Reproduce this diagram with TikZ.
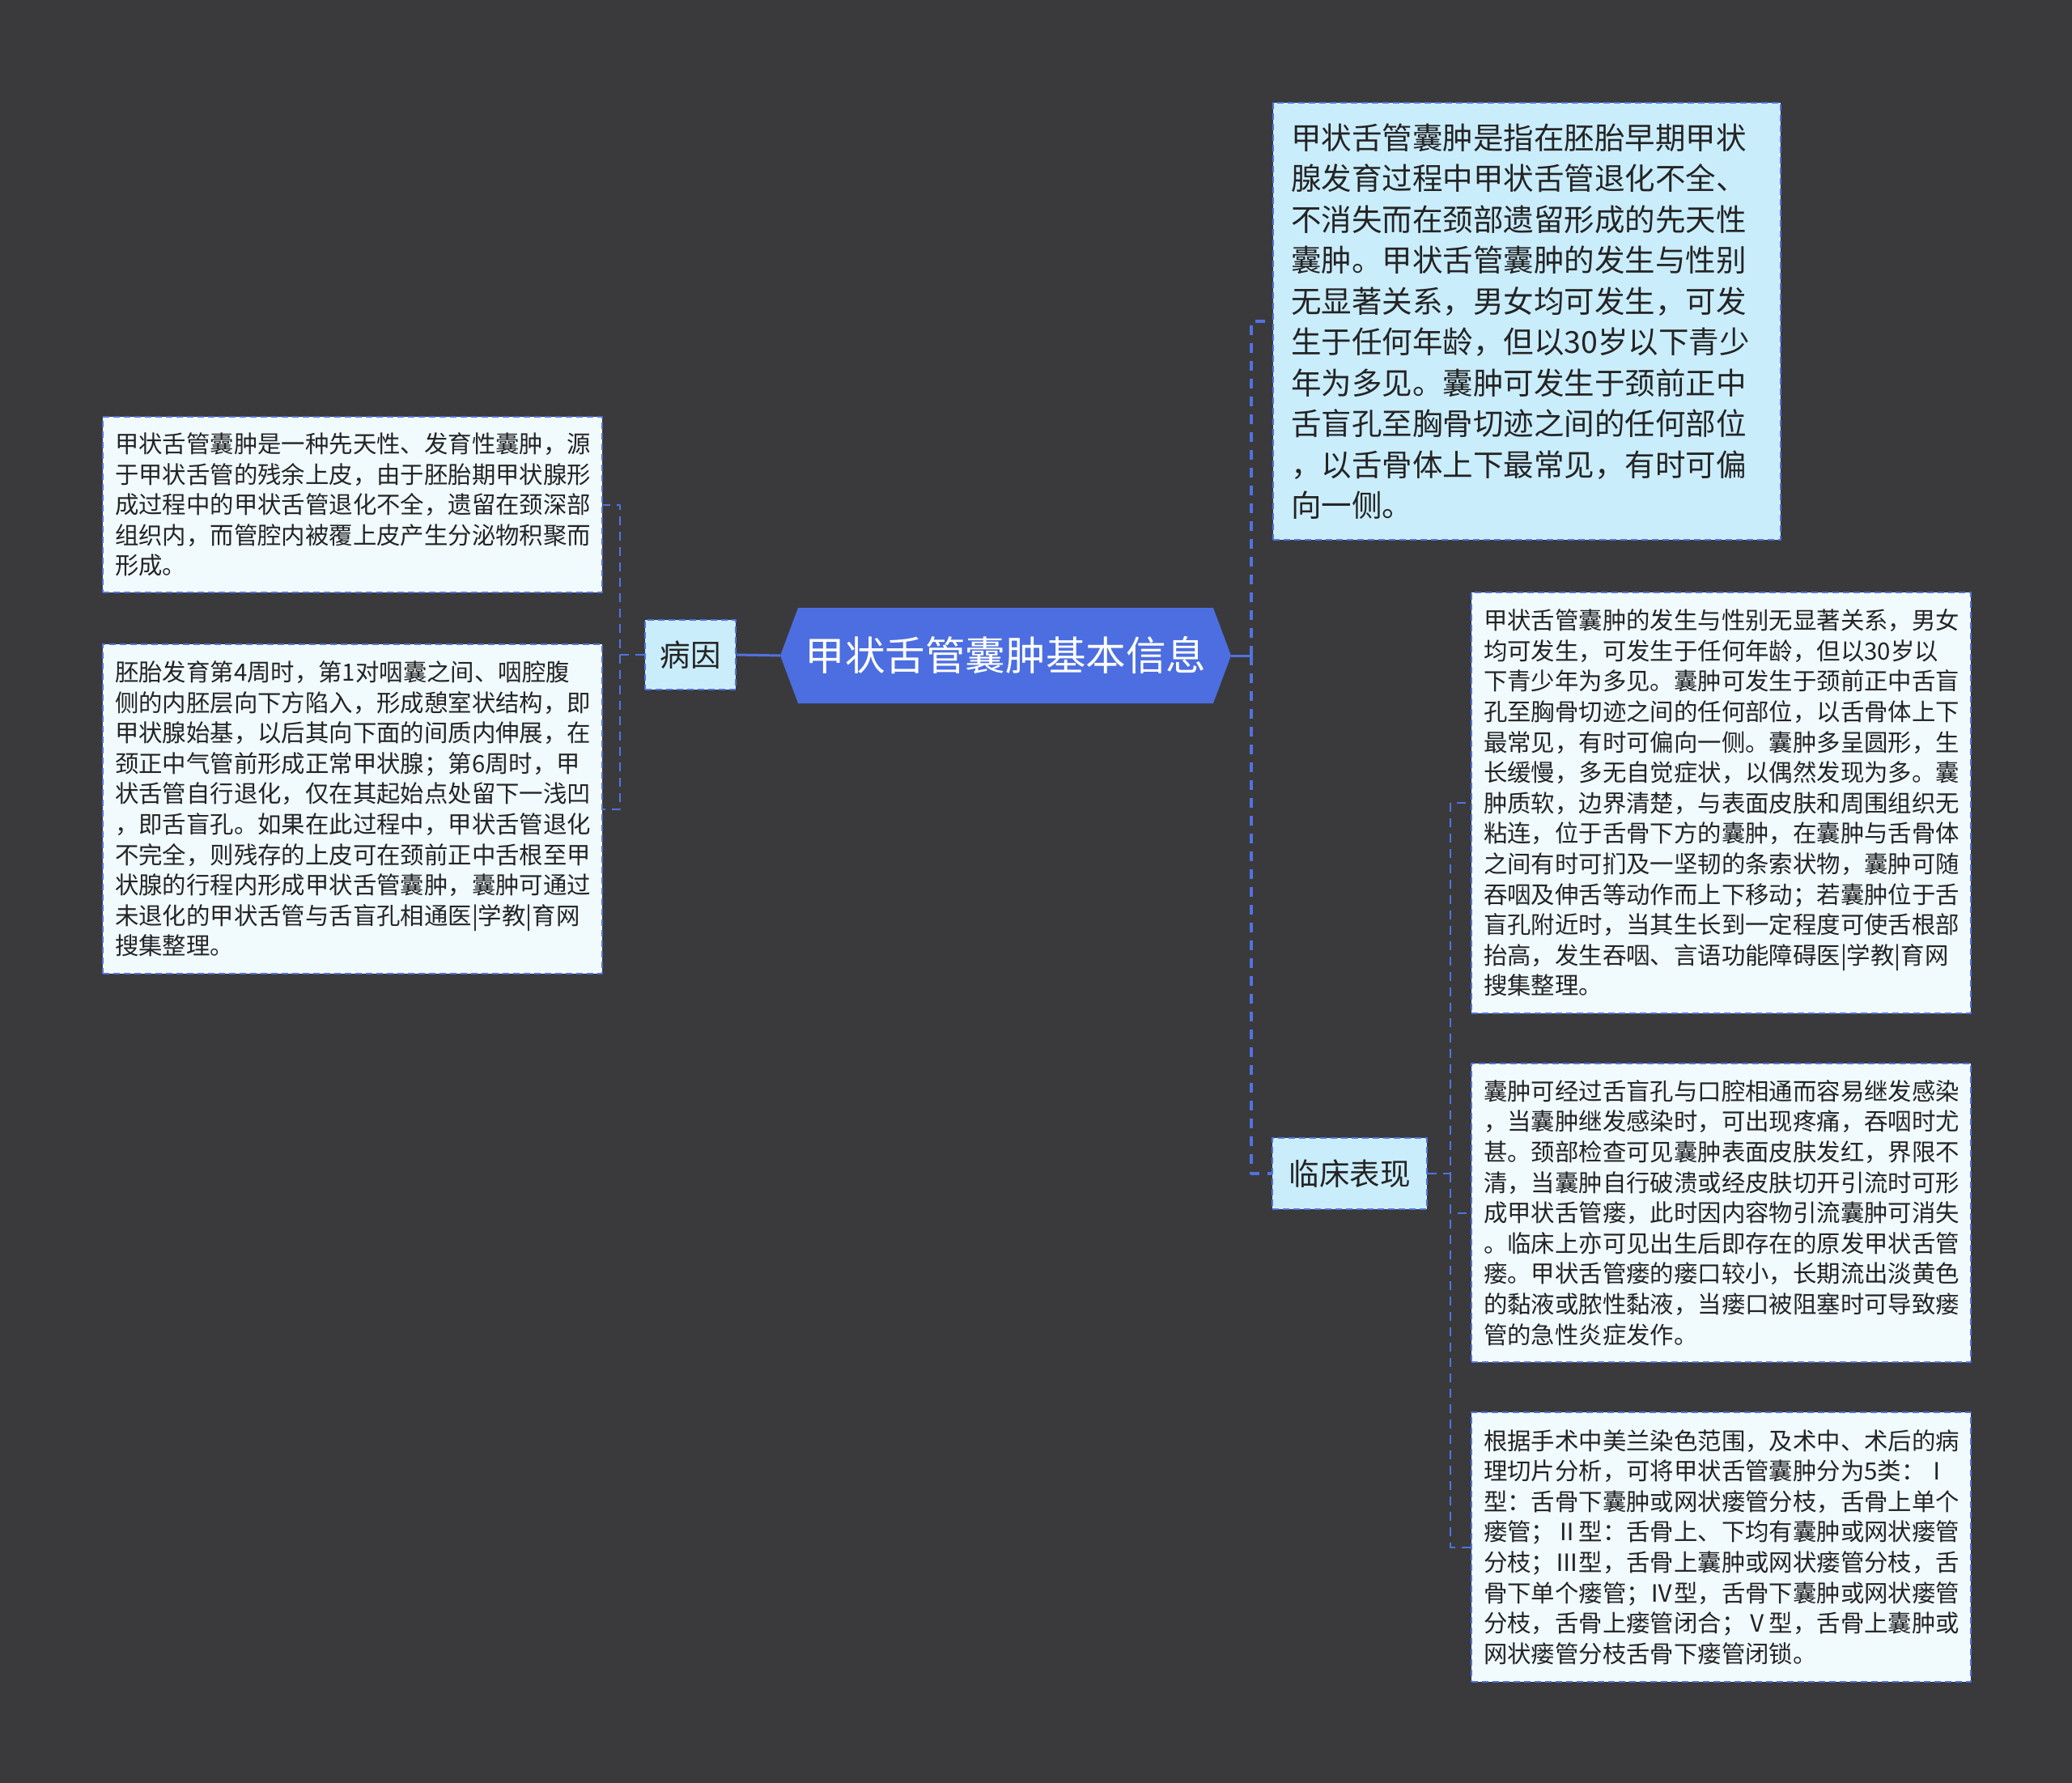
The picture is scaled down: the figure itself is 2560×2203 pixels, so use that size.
\documentclass[tikz,border=0pt]{standalone}
\usepackage{fontspec}
\setmainfont{Noto Sans CJK SC}
\usetikzlibrary{shapes.symbols}
\definecolor{bgc}{RGB}{58,58,60}
\definecolor{rootc}{RGB}{76,110,224}
\definecolor{linec}{RGB}{82,114,224}
\definecolor{topc}{RGB}{202,237,252}
\definecolor{leafc}{RGB}{241,251,254}
\definecolor{txtc}{RGB}{36,36,36}
\begin{document}
\begin{tikzpicture}[x=1pt,y=-1pt,line join=round,
	root/.style={shape=signal,signal to=west and east,signal pointer angle=139,fill=rootc,text=white,inner sep=0pt,minimum width=557,minimum height=118,font=\fontsize{49.6}{60}\selectfont},
	topic/.style={draw=linec,line width=2pt,dash pattern=on 8pt off 5pt,fill=topc,text=txtc,inner sep=0pt,font=\fontsize{37.5}{50.5}\selectfont},
	leaf/.style={draw=linec,line width=2pt,dash pattern=on 8pt off 5pt,fill=leafc,text=txtc,anchor=north west,inner xsep=15pt,inner ysep=0pt,text width=587pt,align=left,font=\fontsize{29.4}{37.6}\selectfont},
	link/.style={draw=linec,line width=2pt,dash pattern=on 11pt off 8pt},
	toplink/.style={draw=linec,line width=4pt,dash pattern=on 12pt off 10pt},
	rootlink/.style={draw=linec,line width=3pt}]
	\fill[bgc] (0,0) rectangle (2560,2203);
	\useasboundingbox (0,0) rectangle (2560,2203);
	% centre
	\node[root] (root) at (1242.5,810) {甲状舌管囊肿基本信息};
	% left branch
	\node[topic,minimum width=112,minimum height=86] (by) at (853,809) {病因};
	\node[leaf,minimum height=217] (l1) at (126,514) {甲状舌管囊肿是一种先天性、发育性囊肿，源\\于甲状舌管的残余上皮，由于胚胎期甲状腺形\\成过程中的甲状舌管退化不全，遗留在颈深部\\组织内，而管腔内被覆上皮产生分泌物积聚而\\形成。};
	\node[leaf,minimum height=407] (l2) at (126,795) {胚胎发育第4周时，第1对咽囊之间、咽腔腹\\侧的内胚层向下方陷入，形成憩室状结构，即\\甲状腺始基，以后其向下面的间质内伸展，在\\颈正中气管前形成正常甲状腺；第6周时，甲\\状舌管自行退化，仅在其起始点处留下一浅凹\\，即舌盲孔。如果在此过程中，甲状舌管退化\\不完全，则残存的上皮可在颈前正中舌根至甲\\状腺的行程内形成甲状舌管囊肿，囊肿可通过\\未退化的甲状舌管与舌盲孔相通医|学教|育网\\搜集整理。};
	% right branch
	\node[topic,anchor=north west,inner xsep=22pt,text width=583pt,align=left,minimum height=540] (def) at (1572,126) {甲状舌管囊肿是指在胚胎早期甲状\\腺发育过程中甲状舌管退化不全、\\不消失而在颈部遗留形成的先天性\\囊肿。甲状舌管囊肿的发生与性别\\无显著关系，男女均可发生，可发\\生于任何年龄，但以30岁以下青少\\年为多见。囊肿可发生于颈前正中\\舌盲孔至胸骨切迹之间的任何部位\\，以舌骨体上下最常见，有时可偏\\向一侧。};
	\node[topic,minimum width=191,minimum height=88] (lc) at (1667.5,1450) {临床表现};
	\node[leaf,minimum height=520] (r1) at (1817,731) {甲状舌管囊肿的发生与性别无显著关系，男女\\均可发生，可发生于任何年龄，但以30岁以\\下青少年为多见。囊肿可发生于颈前正中舌盲\\孔至胸骨切迹之间的任何部位，以舌骨体上下\\最常见，有时可偏向一侧。囊肿多呈圆形，生\\长缓慢，多无自觉症状，以偶然发现为多。囊\\肿质软，边界清楚，与表面皮肤和周围组织无\\粘连，位于舌骨下方的囊肿，在囊肿与舌骨体\\之间有时可扪及一坚韧的条索状物，囊肿可随\\吞咽及伸舌等动作而上下移动；若囊肿位于舌\\盲孔附近时，当其生长到一定程度可使舌根部\\抬高，发生吞咽、言语功能障碍医|学教|育网\\搜集整理。};
	\node[leaf,minimum height=369] (r2) at (1817,1313) {囊肿可经过舌盲孔与口腔相通而容易继发感染\\，当囊肿继发感染时，可出现疼痛，吞咽时尤\\甚。颈部检查可见囊肿表面皮肤发红，界限不\\清，当囊肿自行破溃或经皮肤切开引流时可形\\成甲状舌管瘘，此时因内容物引流囊肿可消失\\。临床上亦可见出生后即存在的原发甲状舌管\\瘘。甲状舌管瘘的瘘口较小，长期流出淡黄色\\的黏液或脓性黏液，当瘘口被阻塞时可导致瘘\\管的急性炎症发作。};
	\node[leaf,minimum height=333] (r3) at (1817,1744) {根据手术中美兰染色范围，及术中、术后的病\\理切片分析，可将甲状舌管囊肿分为5类：Ⅰ\\型：舌骨下囊肿或网状瘘管分枝，舌骨上单个\\瘘管；Ⅱ型：舌骨上、下均有囊肿或网状瘘管\\分枝；Ⅲ型，舌骨上囊肿或网状瘘管分枝，舌\\骨下单个瘘管；Ⅳ型，舌骨下囊肿或网状瘘管\\分枝，舌骨上瘘管闭合；Ⅴ型，舌骨上囊肿或\\网状瘘管分枝舌骨下瘘管闭锁。};
	% connectors
	\draw[rootlink] (root.west) -- (by.east);
	\draw[link] (by.west) -- ++(-30,0) coordinate (lj) |- (l1.east);
	\draw[link] (lj) |- (l2.east);
	\draw[rootlink] (root.east) -- ++(25,0) coordinate (rj);
	\draw[toplink] (rj) |- (def.west);
	\draw[toplink] (rj) |- (lc.west);
	\draw[link] (lc.east) -- ++(28,0) coordinate (cj) |- (r1.west);
	\foreach \n in {r2,r3}
	\draw[link] (cj) |- (\n.west);
\end{tikzpicture}
\end{document}
